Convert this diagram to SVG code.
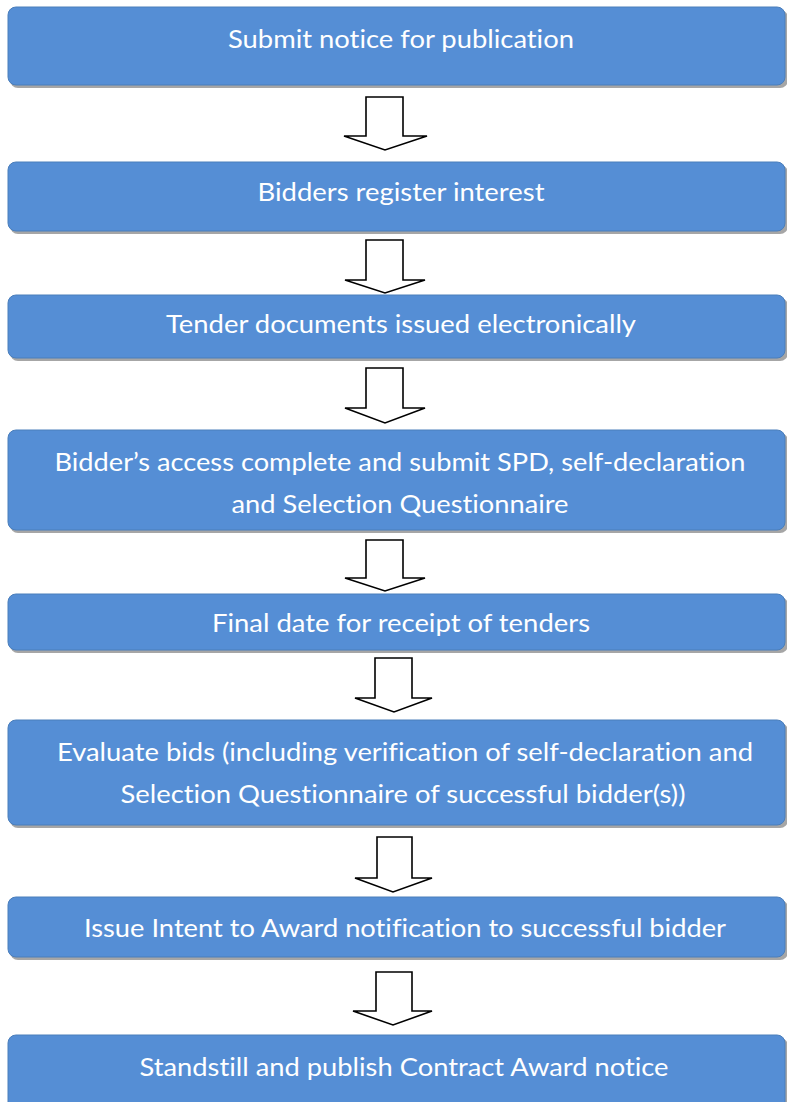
<svg xmlns="http://www.w3.org/2000/svg" width="787" height="1102" viewBox="0 0 787 1102">
<style>
.box{fill:#558ED5;stroke:#4A7EBB;stroke-width:1}
.sh{fill:#A6A6A6}
.t{font-family:Lato,"Liberation Sans",sans-serif;font-size:25px;fill:#FFFFFF;text-anchor:middle;font-variant-ligatures:none}
.ar{fill:#FFFFFF;stroke:#000000;stroke-width:1.6;stroke-linejoin:miter}
</style>
<rect width="787" height="1102" fill="#FFFFFF"/>
<g id="n1"><rect class="sh" x="10" y="10" width="778" height="78" rx="8"/><rect class="box" x="8" y="7" width="777" height="78" rx="8"/><text class="t" x="401" y="48" textLength="346" lengthAdjust="spacingAndGlyphs">Submit notice for publication</text></g>
<g id="n2"><rect class="sh" x="10" y="165" width="778" height="69" rx="8"/><rect class="box" x="8" y="162" width="777" height="69" rx="8"/><text class="t" x="401" y="201" textLength="287" lengthAdjust="spacingAndGlyphs">Bidders register interest</text></g>
<g id="n3"><rect class="sh" x="10" y="298" width="778" height="63" rx="8"/><rect class="box" x="8" y="295" width="777" height="63" rx="8"/><text class="t" x="401" y="333" textLength="470" lengthAdjust="spacingAndGlyphs">Tender documents issued electronically</text></g>
<g id="n4"><rect class="sh" x="10" y="433" width="778" height="100" rx="8"/><rect class="box" x="8" y="430" width="777" height="100" rx="8"/><text class="t" x="400" y="471" textLength="691" lengthAdjust="spacingAndGlyphs">Bidder’s access complete and submit SPD, self-declaration</text><text class="t" x="400" y="513" textLength="337" lengthAdjust="spacingAndGlyphs">and Selection Questionnaire</text></g>
<g id="n5"><rect class="sh" x="10" y="597" width="778" height="56" rx="8"/><rect class="box" x="8" y="594" width="777" height="56" rx="8"/><text class="t" x="401" y="632" textLength="378" lengthAdjust="spacingAndGlyphs">Final date for receipt of tenders</text></g>
<g id="n6"><rect class="sh" x="10" y="723" width="778" height="105" rx="8"/><rect class="box" x="8" y="720" width="777" height="105" rx="8"/><text class="t" x="405" y="761" textLength="696" lengthAdjust="spacingAndGlyphs">Evaluate bids (including verification of self-declaration and</text><text class="t" x="403" y="803" textLength="565" lengthAdjust="spacingAndGlyphs">Selection Questionnaire of successful bidder(s))</text></g>
<g id="n7"><rect class="sh" x="10" y="900" width="778" height="60" rx="8"/><rect class="box" x="8" y="897" width="777" height="60" rx="8"/><text class="t" x="405" y="937" textLength="642" lengthAdjust="spacingAndGlyphs">Issue Intent to Award notification to successful bidder</text></g>
<g id="n8"><rect class="sh" x="10" y="1038" width="778" height="80" rx="8"/><rect class="box" x="8" y="1035" width="777" height="80" rx="8"/><text class="t" x="404" y="1076" textLength="529" lengthAdjust="spacingAndGlyphs">Standstill and publish Contract Award notice</text></g>
<g id="connectors">
<polygon class="ar" points="366,97 403,97 403,136 427,136 385,150 344,136 366,136"/>
<polygon class="ar" points="366,240 403,240 403,280 425,280 385,293 345,280 366,280"/>
<polygon class="ar" points="366,368 403,368 403,408 425,408 385,423 345,408 366,408"/>
<polygon class="ar" points="366,540 403,540 403,578 425,578 385,591 345,578 366,578"/>
<polygon class="ar" points="375,658 412,658 412,698 432,698 394,712 355,698 375,698"/>
<polygon class="ar" points="377,837 412,837 412,878 432,878 393,892 355,878 377,878"/>
<polygon class="ar" points="376,972 412,972 412,1011 432,1011 393,1025 353,1011 376,1011"/>
</g>
</svg>
